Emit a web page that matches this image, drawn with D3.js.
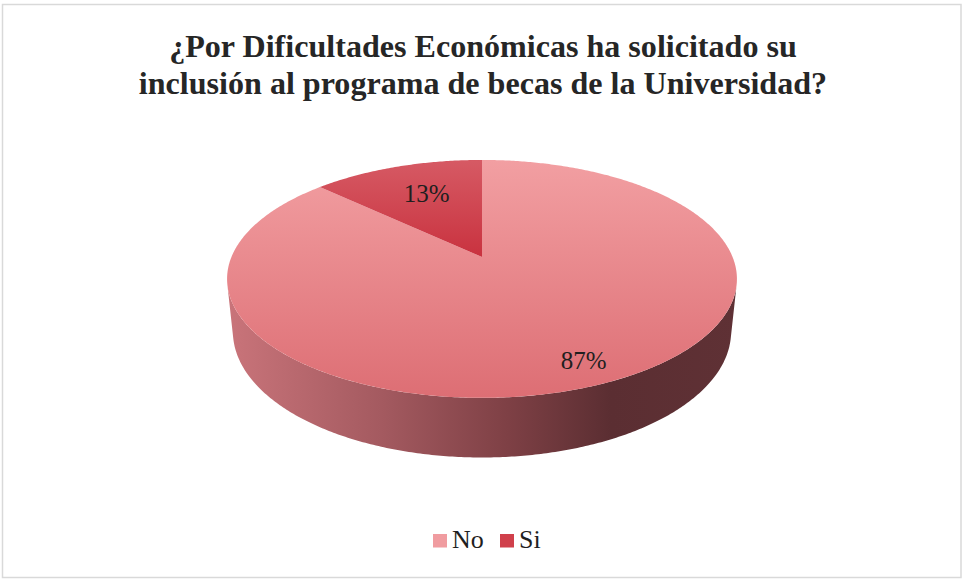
<!DOCTYPE html>
<html>
<head>
<meta charset="utf-8">
<script src="https://cdn.jsdelivr.net/npm/d3@7"></script>
<style>
  html, body { margin: 0; padding: 0; background: #ffffff; }
  svg { display: block; }
  svg text { font-family: "Liberation Serif", "Times New Roman", serif; }
</style>
</head>
<body>
<script>
// ---- data ----
const categories = ["No", "Si"];
const values = [87, 13];
const valueLabels = ["87%", "13%"];
const titleLines = ["¿Por Dificultades Económicas ha solicitado su", "inclusión al programa de becas de la Universidad?"];

// ---- layout / style ----
const W = 963, H = 580;
const topColors = [["#f29fa2", "#dd6e74"], ["#d65a64", "#c9323f"]];
const legendColors = ["#f09ca0", "#d0404b"];
const labelRadius = [0.85, 0.65];

// perspective projection of a flat pie of radius 1
const cx = 482, cy = 257;
const sinP = 0.4587, cosP = Math.sqrt(1 - sinP * sinP);
const dist = 4.829, focal = 1210, depthH = 0.239;
function proj(a, r, y) {
  const x = r * Math.sin(a), z = r * Math.cos(a);
  const depth = dist + z * cosP - y * sinP;
  const up = y * cosP + z * sinP;
  return [cx + focal * x / depth, cy - focal * up / depth];
}
function arcPts(a0, a1, r, y) {
  const n = Math.max(2, Math.ceil(Math.abs(a1 - a0) / 0.01));
  return d3.range(n + 1).map(i => proj(a0 + (a1 - a0) * i / n, r, y));
}

const svg = d3.select("body").append("svg").attr("width", W).attr("height", H);
const defs = svg.append("defs");

// border
svg.append("rect").attr("x", 2.5).attr("y", 4.5).attr("width", 958.5).attr("height", 573)
  .attr("fill", "#fff").attr("stroke", "#d9d9d9").attr("stroke-width", 1.5);

// title
svg.append("text").attr("x", 483).attr("y", 57)
  .attr("text-anchor", "middle").attr("font-weight", "bold")
  .attr("font-size", 32.1).attr("fill", "#262626")
  .selectAll("tspan").data(titleLines).join("tspan")
  .attr("x", 483).attr("dy", (d, i) => i === 0 ? 0 : 37).text(d => d);

const pie = d3.pie().sort(null).value(d => d)(values);
const line = d3.line();

// gradients
const wallGrad = defs.append("linearGradient").attr("id", "wall")
  .attr("gradientUnits", "userSpaceOnUse").attr("x1", 228).attr("x2", 738).attr("y1", 0).attr("y2", 0);
[[0, "#c9747a"], [0.3, "#a45a60"], [0.55, "#7e4045"], [0.75, "#5b2e32"], [1, "#5f3135"]]
  .forEach(([o, c]) => wallGrad.append("stop").attr("offset", o).attr("stop-color", c));

pie.forEach((p, i) => {
  const g = defs.append("linearGradient").attr("id", "top" + i)
    .attr("gradientUnits", "userSpaceOnUse").attr("x1", 0).attr("x2", 0)
    .attr("y1", 160).attr("y2", i === 0 ? 398 : 257);
  g.append("stop").attr("offset", 0).attr("stop-color", topColors[i][0]);
  g.append("stop").attr("offset", 1).attr("stop-color", topColors[i][1]);
});

// outer walls (visible portion only)
const thr = -1 / (dist * cosP);
const aVis0 = Math.acos(thr), aVis1 = 2 * Math.PI - Math.acos(thr);
const walls = svg.append("g");
pie.forEach((p, i) => {
  const a0 = Math.max(p.startAngle, aVis0), a1 = Math.min(p.endAngle, aVis1);
  if (a1 <= a0) return;
  const pts = arcPts(a0, a1, 1, 0).concat(arcPts(a1, a0, 1, -depthH));
  walls.append("path").attr("d", line(pts) + "Z").attr("fill", "url(#wall)");
});

// top faces
const tops = svg.append("g");
pie.forEach((p, i) => {
  const pts = [proj(0, 0, 0)].concat(arcPts(p.startAngle, p.endAngle, 1, 0));
  tops.append("path").attr("d", line(pts) + "Z").attr("fill", `url(#top${i})`);
});

// value labels
pie.forEach((p, i) => {
  const mid = (p.startAngle + p.endAngle) / 2;
  const [x, y] = proj(mid, labelRadius[i], 0);
  svg.append("text").attr("x", x + 3).attr("y", y + 7)
    .attr("text-anchor", "middle").attr("font-size", 25)
    .attr("fill", "#1f1f1f").text(valueLabels[i]);
});

// legend
const legX = [433, 500];
const leg = svg.append("g");
categories.forEach((c, i) => {
  leg.append("rect").attr("x", legX[i]).attr("y", 534).attr("width", 14).attr("height", 13.5)
    .attr("fill", legendColors[i]);
  leg.append("text").attr("x", legX[i] + 19).attr("y", 548)
    .attr("font-size", 26).attr("fill", "#1f1f1f").text(c);
});
</script>
</body>
</html>
